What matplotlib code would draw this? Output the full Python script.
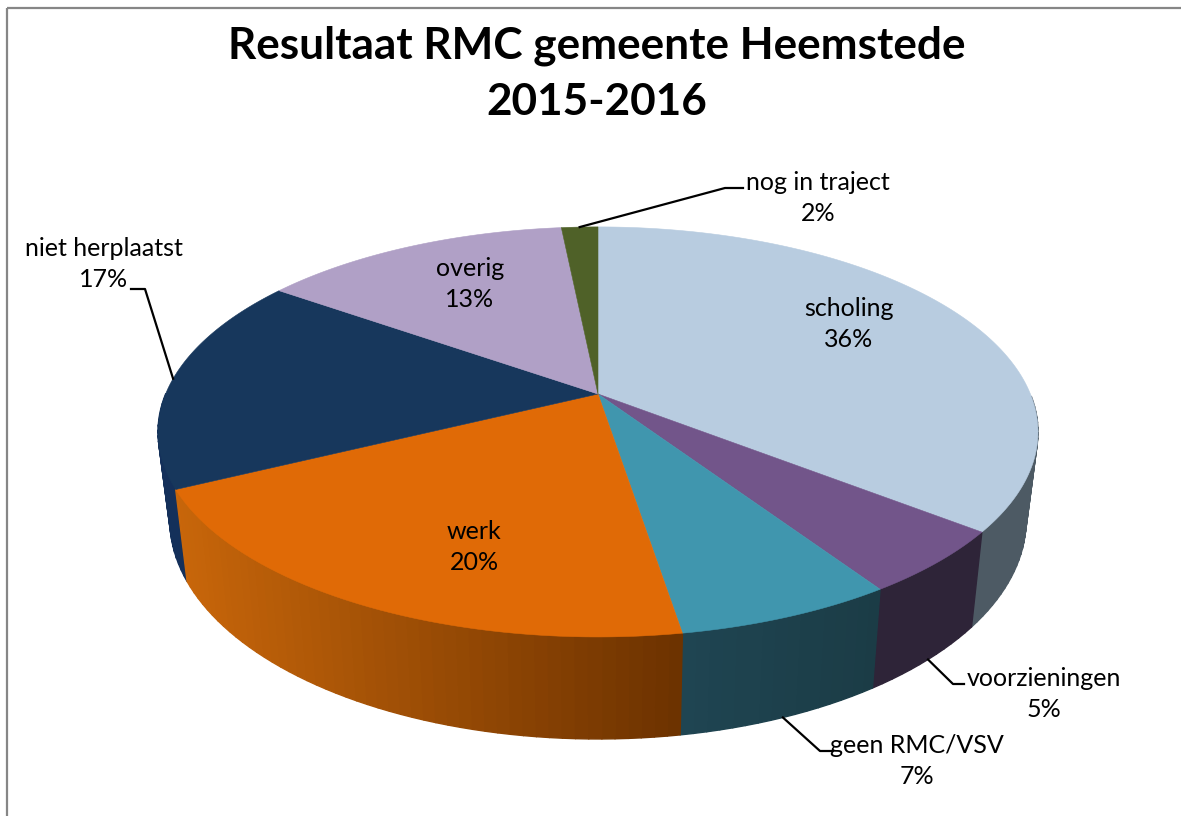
import numpy as np
import matplotlib
matplotlib.use("Agg")
import matplotlib.pyplot as plt
from matplotlib.collections import PolyCollection
from matplotlib.colors import to_rgb
from matplotlib.patches import Polygon, Rectangle

title = "Resultaat RMC gemeente Heemstede\n2015-2016"
categories = ["scholing", "voorzieningen", "geen RMC/VSV", "werk",
              "niet herplaatst", "overig", "nog in traject"]
values = [35.6, 5.1, 6.75, 20.25, 17.1, 13.6, 1.6]
percent_labels = [36, 5, 7, 20, 17, 13, 2]

top_colors = ["#b8cce0", "#72558a", "#4096ae", "#e06a06", "#17375c", "#b0a0c6", "#4f6128"]
side_left = ["#4d5a64", "#2e2438", "#1f4552", "#c8660a", "#14305a", "#5a5066", "#28310f"]
side_right = ["#4d5a64", "#2e2438", "#1b3c46", "#6c3200", "#14305a", "#5a5066", "#28310f"]

# label anchor (pixels), optional leader elbow points
label_pos = [(849, 324), (1044, 694), (917, 761), (474, 547), (104, 264), (470, 284), (818, 198)]
leaders = [None, [(953, 684), (964, 684)], [(820, 751), (832, 751)], None,
           [(145, 289), (131, 289)], None, [(725, 188), (743, 188)]]
leader_low = [False, True, True, False, False, False, False]

W, H = 1181, 816
FONT = "Lato"
CX, CY, RX, RY, PERSP = 598, 394, 432.4, 198, 0.185
SHRINK, LOW_OFF, LOW_STRETCH = 0.973, 85.5, 1.068


def top_ring(frac):
    a = 2 * np.pi * np.asarray(frac)
    x, y = np.sin(a), np.cos(a)
    d = 1 + PERSP * y
    return CX + RX * x / d, CY - RY * y / d


def low_ring(frac):
    X, Y = top_ring(frac)
    return CX + SHRINK * (X - CX), CY + LOW_OFF + LOW_STRETCH * (Y - CY)


fig = plt.figure(figsize=(W / 100, H / 100), dpi=100)
ax = fig.add_axes([0, 0, 1, 1])
ax.set_xlim(0, W)
ax.set_ylim(H, 0)
ax.axis("off")

# chart frame
ax.add_patch(Rectangle((7, 7.5), W + 20, H + 20, fill=False, ec="#868686", lw=1.6, zorder=1))

total = sum(values)
edges = np.concatenate([[0], np.cumsum(values)]) / total

# side wall facets (front half only)
polys, cols, depth = [], [], []
for i in range(len(values)):
    n = max(int((edges[i + 1] - edges[i]) * 250), 2)
    f = np.linspace(edges[i], edges[i + 1], n + 1)
    tx, ty = top_ring(f)
    lx, ly = low_ring(f)
    x0, x1 = tx.min(), tx.max()
    cl, cr = np.array(to_rgb(side_left[i])), np.array(to_rgb(side_right[i]))
    for j in range(n):
        if np.cos(2 * np.pi * (f[j] + f[j + 1]) / 2) > 0:
            continue
        polys.append([(tx[j], ty[j]), (tx[j + 1], ty[j + 1]), (lx[j + 1], ly[j + 1]), (lx[j], ly[j])])
        t = ((tx[j] + tx[j + 1]) / 2 - x0) / (x1 - x0)
        cols.append(cl + (cr - cl) * t)
        depth.append(ty[j] + ty[j + 1])
order = np.argsort(depth)
ax.add_collection(PolyCollection([polys[k] for k in order],
                                 facecolors=[cols[k] for k in order],
                                 edgecolors=[cols[k] for k in order],
                                 linewidths=1.0, zorder=2))

# top faces
for i in range(len(values)):
    f = np.linspace(edges[i], edges[i + 1], 200)
    tx, ty = top_ring(f)
    pts = [(CX, CY)] + list(zip(tx, ty))
    ax.add_patch(Polygon(pts, closed=True, fc=top_colors[i], ec=top_colors[i], lw=0.4, zorder=3))

# labels and leader lines
for i, name in enumerate(categories):
    lx, ly = label_pos[i]
    ax.text(lx, ly, f"{name}\n{percent_labels[i]}%", ha="center", va="center",
            fontsize=18, family=FONT, color="black", linespacing=1.45, zorder=6)
    if leaders[i]:
        mid = (edges[i] + edges[i + 1]) / 2
        sx, sy = low_ring(mid) if leader_low[i] else top_ring(mid)
        xs = [float(sx)] + [p[0] for p in leaders[i]]
        ys = [float(sy)] + [p[1] for p in leaders[i]]
        ax.plot(xs, ys, color="black", lw=1.6, zorder=5, solid_joinstyle="round")

ax.text(597, 74, title, ha="center", va="center", fontsize=31.8, fontweight="bold",
        family=FONT, color="black", linespacing=1.47, zorder=6)

fig.savefig("out.png", dpi=100)
